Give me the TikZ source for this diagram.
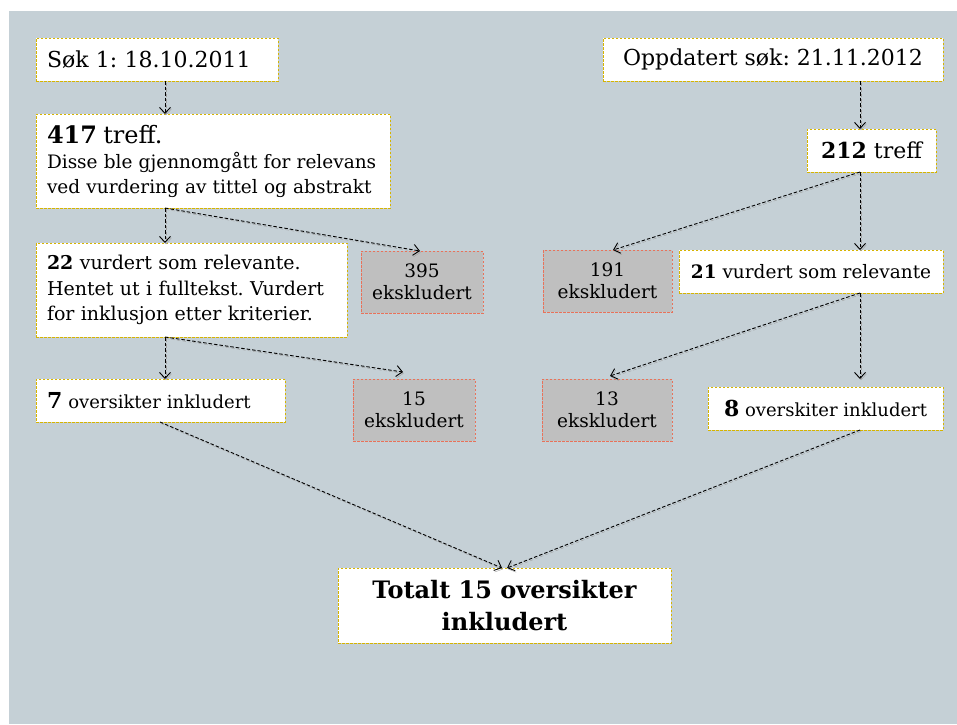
\documentclass[tikz,border=0pt]{standalone}
\usepackage{fontspec}
\setmainfont{DejaVu Serif}
\usetikzlibrary{arrows.meta}
\definecolor{bgc}{HTML}{C5D0D6}
\definecolor{ylw}{HTML}{D6B400}
\definecolor{redb}{HTML}{E8725A}
\definecolor{exfill}{HTML}{BFBFBF}
\newcommand{\fs}[2]{\fontsize{#1}{#2}\selectfont}
\begin{document}
\frenchspacing
\hyphenpenalty=10000
\begin{tikzpicture}[x=1pt,y=-1pt,
  box/.style={draw=ylw, fill=white, line width=0.9pt, dash pattern=on 2.5pt off 1.5pt, anchor=north west, inner ysep=0pt, outer sep=0pt},
  lbox/.style={box, inner xsep=11pt, align=left},
  cbox/.style={box, inner xsep=0pt, align=center},
  exbox/.style={draw=redb, fill=exfill, line width=0.9pt, dash pattern=on 2.5pt off 1.5pt, anchor=north west, inner sep=0pt, outer sep=0pt, align=center, font=\fs{18.5}{22}},
  arr/.style={draw=black, line width=0.9pt, dash pattern=on 3.5pt off 2pt, -{Straight Barb[length=6pt,width=11pt]},
    preaction={draw=gray!75, dash pattern=on 3.5pt off 2pt, -{Straight Barb[length=6pt,width=11pt]}, transform canvas={shift={(1pt,-1.5pt)}}}},
]
\useasboundingbox (0,0) rectangle (957,724);
\fill[bgc] (9,11) rectangle (957,724);

% left column
\node[lbox, text width=220pt, minimum height=43pt, font=\fs{22}{26}] (s1) at (36,38) {Søk 1: 18.10.2011};
\node[lbox, text width=332pt, minimum height=94pt, font=\fs{18.5}{25}] (t417) at (36,114)
  {{\fs{24}{25}\textbf{417} treff.}\\\mbox{Disse ble gjennomgått for relevans}\\\mbox{ved vurdering av tittel og abstrakt}};
\node[lbox, text width=289pt, minimum height=94pt, font=\fs{19}{25.5}] (r22) at (36,243)
  {\textbf{22} vurdert som relevante.\\Hentet ut i fulltekst. Vurdert\\for inklusjon etter kriterier.};
\node[lbox, text width=227pt, minimum height=43pt, font=\fs{18}{22}] (o7) at (36,379)
  {{\fs{22}{22}\textbf{7}} oversikter inkludert};
\node[exbox, minimum width=122pt, minimum height=62pt] (e395) at (361,251) {395\\ekskludert};
\node[exbox, minimum width=122pt, minimum height=62pt] (e15) at (353,379) {15\\ekskludert};

% right column
\node[cbox, minimum width=340pt, minimum height=43pt, font=\fs{22}{26}] (opp) at (603,38) {Oppdatert søk: 21.11.2012};
\node[cbox, minimum width=129pt, minimum height=43pt, font=\fs{22}{26}] (t212) at (807,129) {\textbf{212} treff};
\node[cbox, minimum width=264pt, minimum height=43pt, font=\fs{18.5}{22}] (r21) at (679,250) {\textbf{21} vurdert som relevante};
\node[cbox, minimum width=235pt, minimum height=43pt, font=\fs{18}{22}] (o8) at (708,387) {{\fs{22}{22}\textbf{8}} overskiter inkludert};
\node[exbox, minimum width=129pt, minimum height=62pt] (e191) at (543,250) {191\\ekskludert};
\node[exbox, minimum width=130pt, minimum height=62pt] (e13) at (542,379) {13\\ekskludert};

% total
\node[cbox, minimum width=333pt, minimum height=75pt, font=\fs{24}{32}\bfseries] (tot) at (338,568) {Totalt 15 oversikter\\inkludert};

% arrows
\draw[arr] ([xshift=129pt]s1.south west) -- ([xshift=129pt]t417.north west);
\draw[arr] ([xshift=257pt]opp.south west) -- ([xshift=53pt]t212.north west);
\draw[arr] ([xshift=129pt]t417.south west) -- ([xshift=129pt]r22.north west);
\draw[arr] ([xshift=129pt]t417.south west) -- ([xshift=59pt]e395.north west);
\draw[arr] ([xshift=53pt]t212.south west) -- ([xshift=70pt]e191.north west);
\draw[arr] ([xshift=53pt]t212.south west) -- ([xshift=181pt]r21.north west);
\draw[arr] ([xshift=129pt]r22.south west) -- ([xshift=129pt]o7.north west);
\draw[arr] ([xshift=129pt]r22.south west) -- ([shift={(50pt,7pt)}]e15.north west);
\draw[arr] ([xshift=181pt]r21.south west) -- ([shift={(68pt,3pt)}]e13.north west);
\draw[arr] ([xshift=181pt]r21.south west) -- ([shift={(152pt,8pt)}]o8.north west);
\draw[arr] ([xshift=124pt]o7.south west) -- ([xshift=164pt]tot.north west);
\draw[arr] ([xshift=152pt]o8.south west) -- ([xshift=169pt]tot.north west);
\end{tikzpicture}
\end{document}
